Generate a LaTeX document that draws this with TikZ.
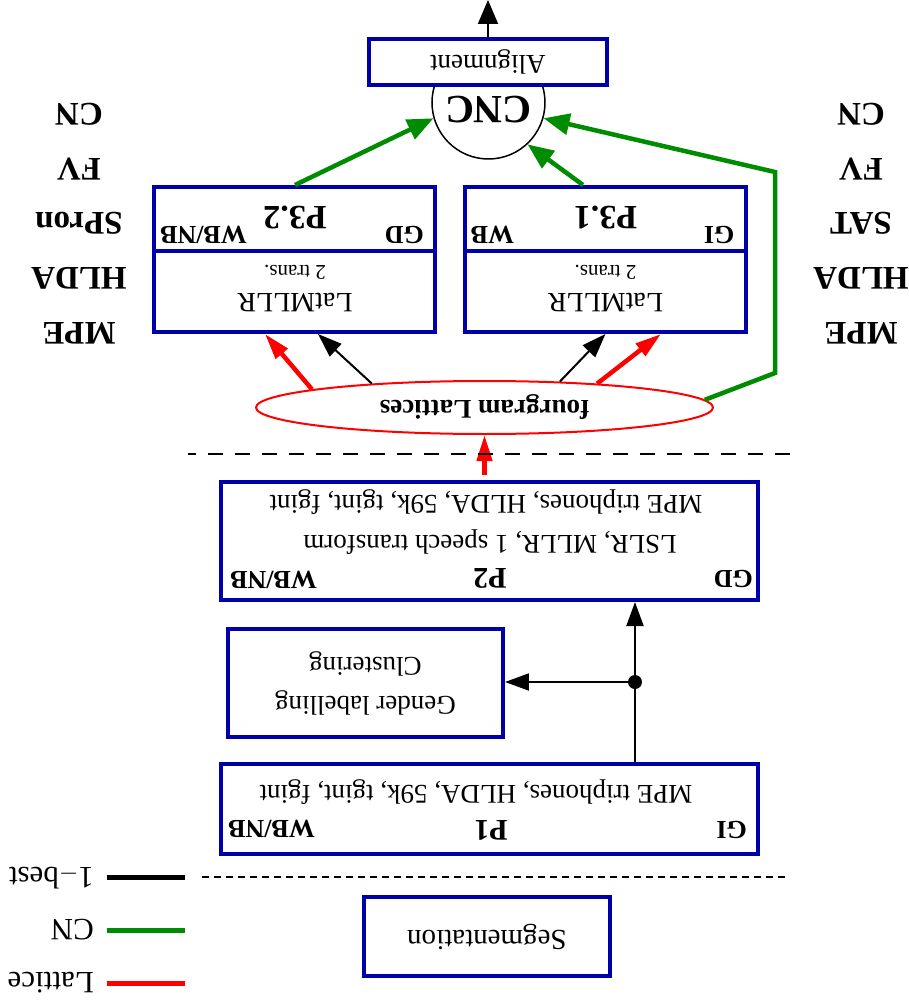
\documentclass[tikz,border=0pt]{standalone}
\usepackage{fontspec}
\setmainfont{Liberation Serif}
\usetikzlibrary{arrows.meta,shapes.geometric,calc,positioning}
\definecolor{stageblue}{RGB}{0,0,170}
\definecolor{cngreen}{RGB}{0,140,0}

\begin{document}
\begin{tikzpicture}[x=1pt,y=1pt,rotate=180,transform shape,
    fs/.style={font=\fontsize{#1}{#1}\selectfont},
    fsb/.style={font=\fontsize{#1}{#1}\selectfont\bfseries},
    stage/.style={draw=stageblue,line width=4pt,fill=white,inner sep=0pt,fs=27},
    tag/.style={fsb=26,inner sep=0pt},
    txt/.style={fs=27,inner sep=0pt,anchor=base},
    onebest/.style={line width=2pt,-{Triangle[length=24pt,width=17pt]}},
    cnlink/.style={cngreen,line width=4.5pt,-{Triangle[length=26pt,width=21pt]}},
    latlink/.style={red,line width=4.5pt,-{Triangle[length=26pt,width=15pt]}}]
    \useasboundingbox (0,0) rectangle (909,1000);
    \node[stage,minimum width=246pt,minimum height=79pt,fs=29] (seg) at (422,936.5) {Segmentation};
    \draw[line width=2pt,dash pattern=on 7pt off 5pt] (124,877) -- (709,877);
    \foreach \C/\T/\Yl [count=\Y] in {black/1$-$best/877,cngreen/CN/930,red/Lattice/983}
     {\draw[\C,line width=5pt] (724,\Yl) -- (802,\Yl) coordinate (key-\Y);
      \node[fs=31,inner sep=0pt,anchor=west] (keylbl-\Y) at (815,\Yl) {\T};}
    \node[stage,minimum width=536pt,minimum height=90pt] (P1) at (419.5,809) {};
    \node[tag,anchor=base west] (P1-l) at (162,821) {GI};
    \node[fsb=30,inner sep=0pt,anchor=base] (P1-id) at (418,820) {P1};
    \node[tag,anchor=base east] (P1-r) at (681,820) {WB/NB};
    \node[txt] (P1-am) at (433,785) {MPE triphones, HLDA, 59k, tgint, fgint};
    \node[stage,minimum width=275pt,minimum height=108pt,align=center,
      font=\fontsize{27}{39}\selectfont] (gender) at (543.5,683) {Gender labelling\\Clustering};
    \node[stage,minimum width=536pt,minimum height=118pt] (P2) at (419.5,541) {};
    \node[tag,anchor=base west] (P2-l) at (156,570) {GD};
    \node[fsb=30,inner sep=0pt,anchor=base] (P2-id) at (419,568) {P2};
    \node[tag,anchor=base east] (P2-r) at (679,571) {WB/NB};
    \node[txt] (P2-ad) at (419,535) {LSLR, MLLR, 1 speech transform};
    \node[txt] (P2-am) at (423,495) {MPE triphones, HLDA, 59k, tgint, fgint};
    \coordinate (split) at (274,682);
    \draw[onebest] (P1.south -| split) -- (P2.north -| split);
    \draw[onebest] (split) -- (split -| gender.west);
    \fill (split) circle (7pt);
    \node[ellipse,draw=red,line width=2pt,minimum width=457pt,minimum height=53pt,
      inner sep=0pt,fsb=27] (lat) at (424.5,407.5) {fourgram Lattices};
    \draw[latlink,shorten <=5pt] (lat.north |- P2.south) -- (lat.north);
    \draw[line width=2.5pt,dash pattern=on 15pt off 12pt] (119,454) -- (721,454);
    \foreach \X/\id/\lft/\rgt [count=\Y] in {303.5/3.1/GI/WB,614/3.2/GD/WB\slash NB}
     {\node[stage,minimum width=281pt,minimum height=64pt] (P3\Y-b) at (\X,219) {};
      \node[stage,minimum width=281pt,minimum height=81pt] (P3\Y-t) at (\X,291.5) {};
      \node[fsb=34,inner sep=0pt,anchor=base] (P3\Y-id) at (\X,207) {P\id};
      \node[tag,anchor=base west] (P3\Y-l) at ({\X-129},227) {\lft};
      \node[tag,anchor=base east] (P3\Y-r) at ({\X+135},227) {\rgt};
      \node[fs=28,inner sep=0pt,anchor=base] (P3\Y-ad) at (\X,293) {LatMLLR};
      \node[fs=21,inner sep=0pt,anchor=base] (P3\Y-nt) at (\X,265) {2 trans.};}
    \draw[onebest] (lat.-161) -- (P31-t.north);
    \draw[latlink] (lat.-168) -- (P31-t.north -| 248,0);
    \draw[onebest] (lat.-12) -- (P32-t.north -| 591,0);
    \draw[latlink] (lat.-6) -- (P32-t.north -| 644,0);
    \node[circle,draw,line width=1.5pt,minimum size=113pt,inner sep=0pt] (cnc) at (420.5,102.5) {};
    \node[fsb=40,inner sep=0pt,anchor=base] (cnc-id) at (420.5,97) {CNC};
    \coordinate (bendA) at (134,373);
    \coordinate (bendB) at (134,172);
    \draw[cnlink] (lat.182) -- (bendA) -- (bendB) -- (cnc.164);
    \draw[cnlink] (P31-b.south -| 326,0) -- (cnc.133);
    \draw[cnlink] (P32-b.south) -- (cnc.16.5);
    \node[stage,minimum width=238pt,minimum height=46pt,fs=27] (align) at (421,62) {Alignment};
    \coordinate (out) at (421,0);
    \draw[onebest,-{Triangle[length=24pt,width=20pt]}] (align) -- (out);
    \foreach \L/\R [count=\Y] in {CN/CN,FV/FV,SAT/SPron,HLDA/HLDA,MPE/MPE}
     {\node[fsb=33,inner sep=0pt,anchor=base] (mod-l\Y) at (48,{49.5+54.5*\Y}) {\L};
      \node[fsb=33,inner sep=0pt,anchor=base] (mod-r\Y) at (830,{49.5+54.5*\Y}) {\R};}
\end{tikzpicture}
\end{document}
